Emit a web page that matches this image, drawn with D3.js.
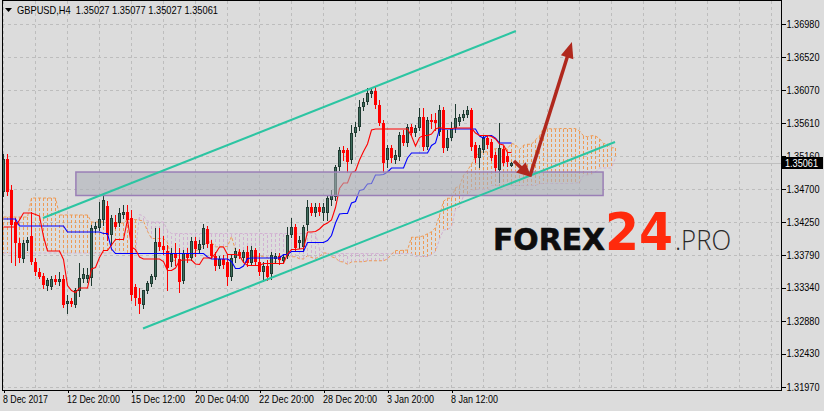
<!DOCTYPE html>
<html><head><meta charset="utf-8">
<script src="https://cdn.jsdelivr.net/npm/d3@7"></script>
<style>html,body{margin:0;padding:0;background:#dcdcdc;overflow:hidden}svg{display:block}</style>
</head><body><svg id="c" width="824" height="411"></svg>
<script>
// ---------------- DATA ----------------
const symbolTitle = "GBPUSD,H4";
const open = [1.34661,1.35116,1.34689,1.34247,1.33957,1.33736,1.33957,1.34054,1.33695,1.33557,
1.33502,1.33364,1.33350,1.33460,1.33419,1.33460,1.33115,1.33157,1.33102,1.33295,
1.33460,1.33460,1.33474,1.34150,1.34164,1.34275,1.34468,1.34068,1.34247,1.34233,
1.34344,1.34385,1.34302,1.33350,1.33198,1.33102,1.33295,1.33391,1.33488,1.33971,
1.33916,1.33847,1.33695,1.33819,1.33736,1.33433,1.33819,1.33750,1.33985,1.33861,
1.33930,1.34150,1.33943,1.33778,1.33640,1.33736,1.33695,1.33488,1.33750,1.33833,
1.33750,1.33833,1.33681,1.33861,1.33695,1.33557,1.33640,1.33529,1.33736,1.33778,
1.33709,1.33778,1.34068,1.34178,1.33957,1.33902,1.34206,1.34454,1.34371,1.34454,
1.34371,1.34371,1.34551,1.34592,1.35006,1.35241,1.35241,1.35103,1.35475,1.35558,
1.35834,1.35903,1.36013,1.36055,1.35862,1.35613,1.35103,1.35268,1.35103,1.35144,
1.35448,1.35337,1.35558,1.35475,1.35544,1.35696,1.35282,1.35655,1.35655,1.35489,
1.35793,1.35268,1.35406,1.35544,1.35627,1.35682,1.35724,1.35793,1.35310,1.35130,
1.35241,1.35406,1.35351,1.35172,1.34965,1.35254,1.35158,1.35027];
const high = [1.35185,1.35185,1.34758,1.34302,1.34026,1.33999,1.34040,1.34385,1.33750,1.33612,
1.33543,1.33474,1.33502,1.33516,1.33557,1.33516,1.33240,1.33198,1.33336,1.33681,
1.33612,1.33612,1.34206,1.34247,1.34523,1.34633,1.34537,1.34344,1.34344,1.34440,
1.34482,1.34482,1.34413,1.33391,1.33336,1.33309,1.33433,1.33529,1.34164,1.34164,
1.34054,1.33930,1.33888,1.33957,1.33888,1.33861,1.33888,1.34040,1.34040,1.33999,
1.34219,1.34192,1.33999,1.33833,1.33778,1.33792,1.33792,1.33792,1.33888,1.33874,
1.33861,1.33916,1.33916,1.33888,1.33819,1.33695,1.33723,1.33833,1.33819,1.33819,
1.33792,1.34178,1.34302,1.34219,1.34054,1.34206,1.34551,1.34509,1.34509,1.34509,
1.34509,1.34606,1.34689,1.35034,1.35282,1.35296,1.35268,1.35586,1.35627,1.35931,
1.35958,1.36096,1.36096,1.36124,1.35931,1.35655,1.35310,1.35310,1.35241,1.35489,
1.35517,1.35599,1.35599,1.35586,1.35820,1.35820,1.35696,1.35737,1.35751,1.35862,
1.35834,1.35517,1.35627,1.35875,1.35737,1.35793,1.35848,1.35820,1.35351,1.35310,
1.35448,1.35448,1.35392,1.35213,1.35613,1.35296,1.35199,1.35077];
const low = [1.34606,1.34620,1.33695,1.33654,1.33695,1.33695,1.33861,1.33667,1.33516,1.33474,
1.33336,1.33309,1.33322,1.33391,1.33378,1.33074,1.32991,1.33088,1.33074,1.33226,
1.33419,1.33419,1.33378,1.34109,1.34137,1.34206,1.33999,1.33930,1.34164,1.34192,
1.34302,1.34247,1.33171,1.33102,1.32991,1.33060,1.33267,1.33364,1.33460,1.33861,
1.33805,1.33309,1.33640,1.33654,1.33281,1.33405,1.33695,1.33723,1.33778,1.33833,
1.33888,1.33902,1.33750,1.33585,1.33612,1.33612,1.33378,1.33447,1.33695,1.33750,
1.33695,1.33640,1.33654,1.33654,1.33516,1.33433,1.33447,1.33460,1.33695,1.33667,
1.33681,1.33750,1.34040,1.33861,1.33888,1.33861,1.34137,1.34344,1.34330,1.34344,
1.34275,1.34275,1.34482,1.34551,1.34965,1.35103,1.34937,1.35061,1.35434,1.35517,
1.35793,1.35875,1.35972,1.35820,1.35586,1.34937,1.35006,1.35075,1.35061,1.35103,
1.35310,1.35296,1.35448,1.35434,1.35517,1.35241,1.35254,1.35544,1.35517,1.35448,
1.35213,1.35241,1.35379,1.35489,1.35586,1.35655,1.35696,1.35241,1.35075,1.35006,
1.35213,1.35268,1.35103,1.34937,1.34799,1.35034,1.35020,1.35027];
const close = [1.35116,1.34661,1.34206,1.33957,1.33750,1.33957,1.33999,1.33695,1.33557,1.33488,
1.33378,1.33447,1.33460,1.33419,1.33460,1.33102,1.33157,1.33115,1.33309,1.33474,
1.33529,1.33516,1.34164,1.34192,1.34288,1.34551,1.34068,1.34302,1.34178,1.34371,
1.34385,1.34275,1.33240,1.33198,1.33115,1.33309,1.33405,1.33502,1.33971,1.33902,
1.33861,1.33612,1.33805,1.33750,1.33419,1.33819,1.33750,1.33985,1.33874,1.33943,
1.34164,1.33943,1.33778,1.33640,1.33736,1.33654,1.33488,1.33750,1.33847,1.33778,
1.33833,1.33681,1.33861,1.33695,1.33557,1.33640,1.33488,1.33792,1.33778,1.33723,
1.33764,1.34068,1.34178,1.33888,1.33999,1.34178,1.34454,1.34371,1.34454,1.34385,
1.34454,1.34578,1.34620,1.35006,1.35241,1.35199,1.35075,1.35475,1.35558,1.35834,
1.35903,1.36027,1.36055,1.35862,1.35613,1.35061,1.35268,1.35130,1.35172,1.35448,
1.35337,1.35558,1.35475,1.35544,1.35696,1.35282,1.35655,1.35627,1.35613,1.35793,
1.35268,1.35406,1.35544,1.35682,1.35696,1.35737,1.35793,1.35282,1.35130,1.35268,
1.35406,1.35310,1.35130,1.34992,1.35268,1.35061,1.35075,1.35061];

// Ichimoku values visible at the left edge (computed from bars before the chart)
const tenkanEarly = [1.34178,1.34178,1.34178,1.34178,1.34275,1.34371,1.34371,1.34371];
const kijunEarly = [1.34288,1.34288,1.34288,1.34288,1.34192,1.34192,1.34192,1.34192,1.34192,1.34192,
1.34192,1.34192,1.34192,1.34192,1.34192,1.34192,1.34109,1.34109,1.34109,1.34109,
1.34109,1.34109,1.34109,1.34109,1.34109];
const spanAEarly = [1.34316,1.34316,1.34316,1.34316,1.34316,1.34316,1.34316,1.34578,1.34578,1.34578,
1.34578,1.34578,1.34578,1.34578,1.34344,1.34344,1.34344,1.34344,1.34344,1.34344,
1.34344,1.34344,1.34247,1.34247,1.34247,1.34247];
const spanBEarly = [1.33819,1.33819,1.33819,1.33819,1.33819,1.33819,1.33819,1.33819,1.33819,1.33819,
1.33819,1.33819,1.33819,1.33819,1.33819,1.33819,1.33819,1.33819,1.33819,1.33819,
1.33819,1.33819,1.33819,1.33819,1.33819,1.33819,1.33819,1.33819,1.33819,1.33819,
1.33819,1.33819,1.33819,1.33819];

const priceTicks = [1.36980,1.36520,1.36070,1.35610,1.35160,1.34700,1.34250,1.33790,1.33340,1.32880,1.32430,1.31970];
const timeLabelBars = [0,16,32,48,64,80,96,112];
const timeLabels = ["8 Dec 2017","12 Dec 20:00","15 Dec 12:00","20 Dec 04:00","22 Dec 20:00","28 Dec 20:00","3 Jan 20:00","8 Jan 12:00"];

// drawn objects, anchored in (bar index, price)
const channelUpper = [[9.875,1.34302],[128.1,1.36883]];
const channelLower = [[34.875,1.32777],[152.875,1.35351]];
const zoneBars = [18.1,149.9];
const zonePrices = [1.34937,1.34613];
const arrowDown = [[127.6,1.35089],[131.9,1.34868]];
const arrowUp = [[131.6,1.34880],[142.1,1.36731]];
const lastPrice = close[close.length-1];

// ---------------- LAYOUT ----------------
const W = 824, H = 411;
const L = 2, R = 781, B = 390;
const timeLabelWidths = [45,53,54,54,55,54,47,47];
const FONT = "'Liberation Sans', Arial, sans-serif";

const x = d3.scaleLinear().domain([0,1]).range([3.5,7.5]);
const y = d3.scaleLinear().domain([1.3197,1.3698]).range([387,24]);

const N = close.length;
const CLOUD_SHIFT = 26;

// ---------------- ICHIMOKU ----------------
function hl(s,e){ return (d3.max(high.slice(s,e+1)) + d3.min(low.slice(s,e+1)))/2; }
const tenkan = d3.range(N).map(i => i < tenkanEarly.length ? tenkanEarly[i] : hl(i-8,i));
const kijun  = d3.range(N).map(i => i < kijunEarly.length ? kijunEarly[i] : hl(i-25,i));
const spanA = d3.range(N+CLOUD_SHIFT).map(j => j < spanAEarly.length ? spanAEarly[j] : (tenkan[j-CLOUD_SHIFT]+kijun[j-CLOUD_SHIFT])/2);
const spanB = d3.range(N+CLOUD_SHIFT).map(j => {
  if (j < spanBEarly.length) return spanBEarly[j];
  const k = j-CLOUD_SHIFT; return hl(Math.max(0,k-51),k);
});

// ---------------- DRAW ----------------
const svg = d3.select("#c");
svg.append("rect").attr("width",W).attr("height",H).attr("fill","#dcdcdc");
svg.append("defs").append("clipPath").attr("id","plot")
  .append("rect").attr("x",L).attr("y",1).attr("width",R-L).attr("height",B-1);
const plot = svg.append("g").attr("clip-path","url(#plot)");

// grid
const grid = plot.append("g").attr("stroke","#bdbdbd").attr("stroke-dasharray","3,3").attr("shape-rendering","crispEdges");
priceTicks.forEach(p => {
  const yy = Math.round(y(p))+0.5;
  grid.append("line").attr("x1",L).attr("x2",R).attr("y1",yy).attr("y2",yy);
});
for (let k=0; x(k) < R; k+=8) {
  grid.append("line").attr("x1",x(k)).attr("x2",x(k)).attr("y1",1).attr("y2",B);
}
// bid line
plot.append("line").attr("x1",L).attr("x2",R)
  .attr("y1",Math.round(y(lastPrice))+0.5).attr("y2",Math.round(y(lastPrice))+0.5)
  .attr("stroke","#bfbfbf").attr("shape-rendering","crispEdges");

// cloud
const SANDY = "#ee9a55", THISTLE = "#d2b0d2";
const cloud = plot.append("g").attr("stroke-dasharray","3,2").attr("shape-rendering","crispEdges");
spanA.forEach((a,j) => {
  const b = spanB[j];
  const ya = y(a), yb = y(b);
  if (Math.abs(ya-yb) < 1) return;
  cloud.append("line").attr("x1",x(j)).attr("x2",x(j)).attr("y1",ya).attr("y2",yb)
    .attr("stroke", a > b ? SANDY : THISTLE);
});
const lineGen = d3.line().x((d,i)=>x(i)).y(d=>y(d));
plot.append("path").attr("d",lineGen(spanB)).attr("fill","none").attr("stroke",THISTLE).attr("stroke-dasharray","3,2");
plot.append("path").attr("d",lineGen(spanA)).attr("fill","none").attr("stroke",SANDY).attr("stroke-dasharray","3,2");

// candles
const BULL_FILL = "#3f6d5d", BULL_EDGE = "#1f3a31", BEAR = "#ff0000";
const cg = plot.append("g").attr("shape-rendering","crispEdges");
d3.range(N).forEach(i => {
  const cx = x(i), bull = close[i] >= open[i];
  const col = bull ? BULL_EDGE : BEAR;
  cg.append("line").attr("x1",cx).attr("x2",cx)
    .attr("y1",Math.round(y(high[i]))).attr("y2",Math.round(y(low[i]))+1).attr("stroke",col);
  const yt = Math.round(y(Math.max(open[i],close[i])));
  const yb = Math.round(y(Math.min(open[i],close[i])));
  const h = Math.max(1, yb-yt);
  if (bull) {
    if (h <= 2) {
      cg.append("rect").attr("x",cx-1.5).attr("y",yt).attr("width",3).attr("height",h).attr("fill",BULL_EDGE);
    } else {
      cg.append("rect").attr("x",cx-1).attr("y",yt+0.5).attr("width",2).attr("height",h-1)
        .attr("fill",BULL_FILL).attr("stroke",BULL_EDGE);
    }
  } else {
    cg.append("rect").attr("x",cx-1.5).attr("y",yt).attr("width",3).attr("height",h).attr("fill",BEAR);
  }
});

// tenkan / kijun
plot.append("path").attr("d",lineGen(kijun)).attr("fill","none").attr("stroke","#0000ff").attr("stroke-width",1.1);
plot.append("path").attr("d",lineGen(tenkan)).attr("fill","none").attr("stroke","#ff0000").attr("stroke-width",1.1);

// support zone rectangle
plot.append("rect")
  .attr("x",x(zoneBars[0])).attr("y",y(zonePrices[0]))
  .attr("width",x(zoneBars[1])-x(zoneBars[0])).attr("height",y(zonePrices[1])-y(zonePrices[0]))
  .attr("fill","#adafb8").attr("fill-opacity",0.58)
  .attr("stroke","#9a7fb6").attr("stroke-width",1.5);

// channel lines
[channelUpper, channelLower].forEach(c => {
  plot.append("line").attr("x1",x(c[0][0])).attr("y1",y(c[0][1]))
    .attr("x2",x(c[1][0])).attr("y2",y(c[1][1]))
    .attr("stroke","#2cc5a2").attr("stroke-width",2);
});

// arrows
function arrow(a, headL, headW) {
  const x0=x(a[0][0]), y0=y(a[0][1]), x1=x(a[1][0]), y1=y(a[1][1]);
  const dx=x1-x0, dy=y1-y0, len=Math.hypot(dx,dy), ux=dx/len, uy=dy/len;
  const bx=x1-ux*headL, by=y1-uy*headL, px=-uy, py=ux;
  plot.append("line").attr("x1",x0).attr("y1",y0).attr("x2",bx+ux*2).attr("y2",by+uy*2)
    .attr("stroke","#b0281d").attr("stroke-width",3.5);
  plot.append("path").attr("d",`M${x1},${y1}L${bx+px*headW},${by+py*headW}L${bx-px*headW},${by-py*headW}Z`)
    .attr("fill","#b0281d");
}
arrow(arrowDown, 14, 7);
arrow(arrowUp, 16, 6.5);

// frame
const frame = svg.append("g").attr("stroke","#000").attr("shape-rendering","crispEdges");
frame.append("line").attr("x1",L+0.5).attr("x2",L+0.5).attr("y1",0).attr("y2",B+1);
frame.append("line").attr("x1",L).attr("x2",R+1).attr("y1",B+0.5).attr("y2",B+0.5);
frame.append("line").attr("x1",R+0.5).attr("x2",R+0.5).attr("y1",0).attr("y2",B+1);
frame.append("line").attr("x1",L).attr("x2",R+1).attr("y1",0.5).attr("y2",0.5);

// price axis
const yAxis = svg.append("g").attr("transform",`translate(${R+0.5},0)`)
  .call(d3.axisRight(y).tickValues(priceTicks).tickSize(4).tickPadding(1).tickFormat(d3.format(".5f")));
yAxis.select(".domain").remove();
yAxis.selectAll("line").attr("stroke","#000").attr("shape-rendering","crispEdges");
yAxis.selectAll("text").attr("font-family",FONT).attr("font-size",10).attr("fill","#000")
  .attr("textLength",33).attr("lengthAdjust","spacingAndGlyphs");

// time axis
const xAxis = svg.append("g").attr("transform",`translate(0,${B})`)
  .call(d3.axisBottom(x).tickValues(timeLabelBars).tickSize(3).tickPadding(3).tickFormat((d,i)=>timeLabels[i]));
xAxis.select(".domain").remove();
xAxis.selectAll("line").attr("stroke","#000").attr("shape-rendering","crispEdges");
xAxis.selectAll("text").attr("font-family",FONT).attr("font-size",10.5).attr("fill","#000")
  .attr("text-anchor","start").attr("x",-1)
  .attr("textLength",(d,i)=>timeLabelWidths[i]).attr("lengthAdjust","spacingAndGlyphs");

// last price box
const ly = y(lastPrice);
svg.append("rect").attr("x",R+1).attr("y",Math.round(ly)-6).attr("width",W-R-2).attr("height",12).attr("fill","#000");
svg.append("text").attr("x",R+4).attr("y",Math.round(ly)+4).attr("fill","#fff")
  .attr("font-family",FONT).attr("font-size",10).attr("textLength",33).attr("lengthAdjust","spacingAndGlyphs")
  .text(d3.format(".5f")(lastPrice));

// header
svg.append("path").attr("d","M5,8L12,8L8.5,12Z").attr("fill","#000");
const fmt = d3.format(".5f");
svg.append("text").attr("x",17).attr("y",13.5).attr("font-family",FONT).attr("font-size",10.5).attr("fill","#000")
  .attr("textLength",201).attr("lengthAdjust","spacingAndGlyphs").attr("xml:space","preserve")
  .text(`${symbolTitle}  ${fmt(open[N-1])} ${fmt(high[N-1])} ${fmt(low[N-1])} ${fmt(close[N-1])}`);

// watermark
const wm = svg.append("g");
wm.append("text").attr("x",493).attr("y",250).attr("font-family","'DejaVu Sans', sans-serif").attr("font-weight","bold")
  .attr("font-size",31).attr("fill","#0d0d0d").attr("stroke","#0d0d0d").attr("stroke-width",0.6)
  .attr("textLength",112).attr("lengthAdjust","spacingAndGlyphs").text("FOREX");
wm.append("text").attr("x",605).attr("y",250).attr("font-family","'DejaVu Sans', sans-serif").attr("font-weight","bold")
  .attr("font-size",51).attr("fill","#ff2a0c").attr("textLength",68).attr("lengthAdjust","spacingAndGlyphs").text("24");
wm.append("text").attr("x",675).attr("y",250).attr("font-family","'Open Sans', 'Noto Sans', sans-serif").attr("font-weight",300)
  .attr("font-size",28).attr("fill","#2a2a2a").attr("textLength",56).attr("lengthAdjust","spacingAndGlyphs").text(".PRO");
</script>
</body></html>
